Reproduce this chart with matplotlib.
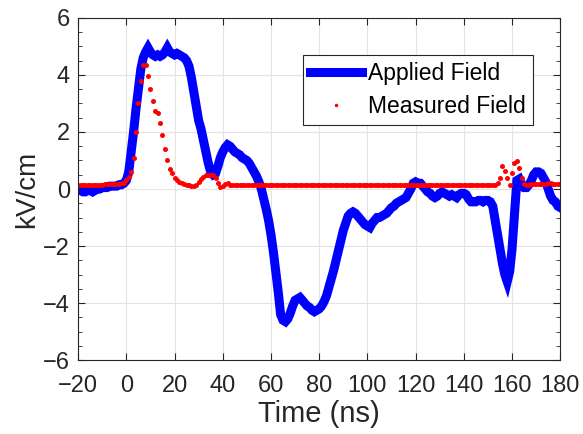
import matplotlib
matplotlib.use("Agg")
import matplotlib.pyplot as plt
import numpy as np
from matplotlib.ticker import MultipleLocator

plt.rcParams["font.family"] = ["Liberation Sans", "DejaVu Sans"]

# Tiempo (ns), una muestra por ns de -20 a 180
tiempo = np.arange(-20, 181)

# Campo aplicado (kV/cm)
aplicado = [
    0.0, -0.05, -0.1, -0.1, -0.05, -0.05, -0.1, -0.05, 0.0, 0.0,
    0.05, 0.05, 0.05, 0.1, 0.1, 0.1, 0.1, 0.15, 0.15, 0.2,
    0.3, 0.6, 1.3, 2.0, 2.8, 3.5, 4.2, 4.6, 4.8, 4.95,
    4.8, 4.7, 4.65, 4.7, 4.65, 4.7, 4.8, 4.95, 4.8, 4.75,
    4.7, 4.75, 4.7, 4.65, 4.6, 4.5, 4.3, 3.9, 3.4, 2.9,
    2.4, 2.1, 1.7, 1.3, 0.9, 0.6, 0.5, 0.55, 0.8, 1.1,
    1.3, 1.45, 1.55, 1.5, 1.4, 1.3, 1.25, 1.2, 1.1, 1.05,
    1.0, 0.9, 0.75, 0.6, 0.45, 0.25, 0.0, -0.35, -0.7, -1.1,
    -1.6, -2.2, -2.9, -3.6, -4.4, -4.6, -4.65, -4.55, -4.35, -4.1,
    -3.9, -3.85, -3.8, -3.9, -4.0, -4.1, -4.15, -4.25, -4.3, -4.25,
    -4.2, -4.1, -3.95, -3.75, -3.45, -3.15, -2.85, -2.5, -2.15, -1.8,
    -1.45, -1.2, -0.95, -0.85, -0.8, -0.85, -0.95, -1.05, -1.15, -1.25,
    -1.3, -1.35, -1.2, -1.1, -1.0, -1.0, -0.95, -0.9, -0.85, -0.75,
    -0.65, -0.6, -0.5, -0.45, -0.4, -0.35, -0.3, -0.15, 0.0, 0.2,
    0.25, 0.2, 0.2, 0.1, 0.0, -0.1, -0.15, -0.25, -0.3, -0.25,
    -0.15, -0.1, -0.15, -0.2, -0.25, -0.2, -0.25, -0.3, -0.2, -0.15,
    -0.15, -0.2, -0.35, -0.45, -0.45, -0.45, -0.4, -0.4, -0.45, -0.4,
    -0.4, -0.45, -0.6, -1.1, -1.6, -2.1, -2.6, -3.0, -3.25, -2.9,
    -2.1, -0.9, 0.3, 0.35, 0.15, 0.05, 0.05, 0.15, 0.3, 0.5,
    0.6, 0.6, 0.55, 0.4, 0.25, 0.0, -0.25, -0.4, -0.45, -0.6,
    -0.65,
]

# Campo medido (kV/cm)
medido = [
    0.15, 0.15, 0.15, 0.15, 0.15, 0.15, 0.15, 0.15, 0.15, 0.15,
    0.15, 0.16, 0.16, 0.16, 0.17, 0.17, 0.18, 0.18, 0.2, 0.22,
    0.3, 0.42, 0.6, 1.1, 2.0, 3.0, 3.8, 4.35, 4.35, 3.95,
    3.5, 3.1, 2.75, 2.65, 2.3, 1.9, 1.4, 1.0, 0.7, 0.55,
    0.4, 0.3, 0.25, 0.2, 0.17, 0.15, 0.13, 0.12, 0.12, 0.15,
    0.25, 0.35, 0.43, 0.48, 0.5, 0.5, 0.5, 0.4, 0.2, 0.07,
    0.12, 0.18, 0.2, 0.15, 0.15, 0.14, 0.15, 0.15, 0.14, 0.15,
    0.15, 0.14, 0.15, 0.15, 0.14, 0.15, 0.15, 0.14, 0.15, 0.15,
    0.14, 0.15, 0.15, 0.14, 0.15, 0.15, 0.14, 0.15, 0.15, 0.14,
    0.15, 0.15, 0.14, 0.15, 0.15, 0.14, 0.15, 0.15, 0.14, 0.15,
    0.15, 0.14, 0.15, 0.15, 0.14, 0.15, 0.15, 0.14, 0.15, 0.15,
    0.14, 0.15, 0.15, 0.14, 0.15, 0.15, 0.14, 0.15, 0.15, 0.14,
    0.15, 0.15, 0.14, 0.15, 0.15, 0.14, 0.15, 0.15, 0.14, 0.15,
    0.15, 0.14, 0.15, 0.15, 0.14, 0.15, 0.15, 0.14, 0.15, 0.15,
    0.14, 0.15, 0.15, 0.14, 0.15, 0.15, 0.14, 0.15, 0.15, 0.14,
    0.15, 0.15, 0.14, 0.15, 0.15, 0.14, 0.15, 0.15, 0.14, 0.15,
    0.15, 0.14, 0.15, 0.15, 0.14, 0.15, 0.15, 0.15, 0.15, 0.15,
    0.15, 0.15, 0.15, 0.15, 0.2, 0.4, 0.8, 0.63, 0.38, 0.15,
    0.55, 0.9, 0.98, 0.73, 0.38, 0.18, 0.15, 0.15, 0.16, 0.16,
    0.17, 0.17, 0.18, 0.18, 0.18, 0.2, 0.2, 0.18, 0.18, 0.17,
    0.17,
]

gris = "#262626"

fig = plt.figure(figsize=(5.83, 4.34), dpi=100)
ax = fig.add_axes([0.134, 0.17, 0.827, 0.789])

ax.plot(tiempo, aplicado, color="#0000ff", linewidth=6.5, label="Applied Field",
        solid_joinstyle="miter")
ax.plot(tiempo, medido, linestyle="none", marker="o", markersize=3.6,
        color="#ff0000", markeredgewidth=0, label="Measured Field")

ax.set_xlim(-20, 180)
ax.set_ylim(-6, 6)
ax.set_xticks(np.arange(-20, 181, 20))
ax.set_yticks(np.arange(-6, 7, 2))
ax.yaxis.set_minor_locator(MultipleLocator(0.5))
ax.tick_params(which="both", direction="in", top=True, right=True,
               colors=gris, labelsize=17)
ax.tick_params(axis="y", pad=6)
ax.tick_params(axis="x", pad=11)
ax.tick_params(which="major", length=5)
ax.tick_params(which="minor", length=3)
ax.grid(True, which="major", color="#e3e3e3", linewidth=0.8)
ax.set_axisbelow(True)
for s in ax.spines.values():
    s.set_color(gris)
    s.set_linewidth(0.8)

ax.set_xlabel("Time (ns)", fontsize=21, color=gris, labelpad=2)
ax.set_ylabel("kV/cm", fontsize=20, color=gris, labelpad=2)

leg = ax.legend(loc="upper left", bbox_to_anchor=(0.467, 0.892), fontsize=16.5,
                frameon=True, fancybox=False, edgecolor=gris, framealpha=1,
                handlelength=2.27, handletextpad=0.25, borderpad=0.3,
                borderaxespad=0, labelspacing=0.45, markerscale=0.7)
leg.get_frame().set_linewidth(0.8)

fig.savefig("out.png", dpi=100)
